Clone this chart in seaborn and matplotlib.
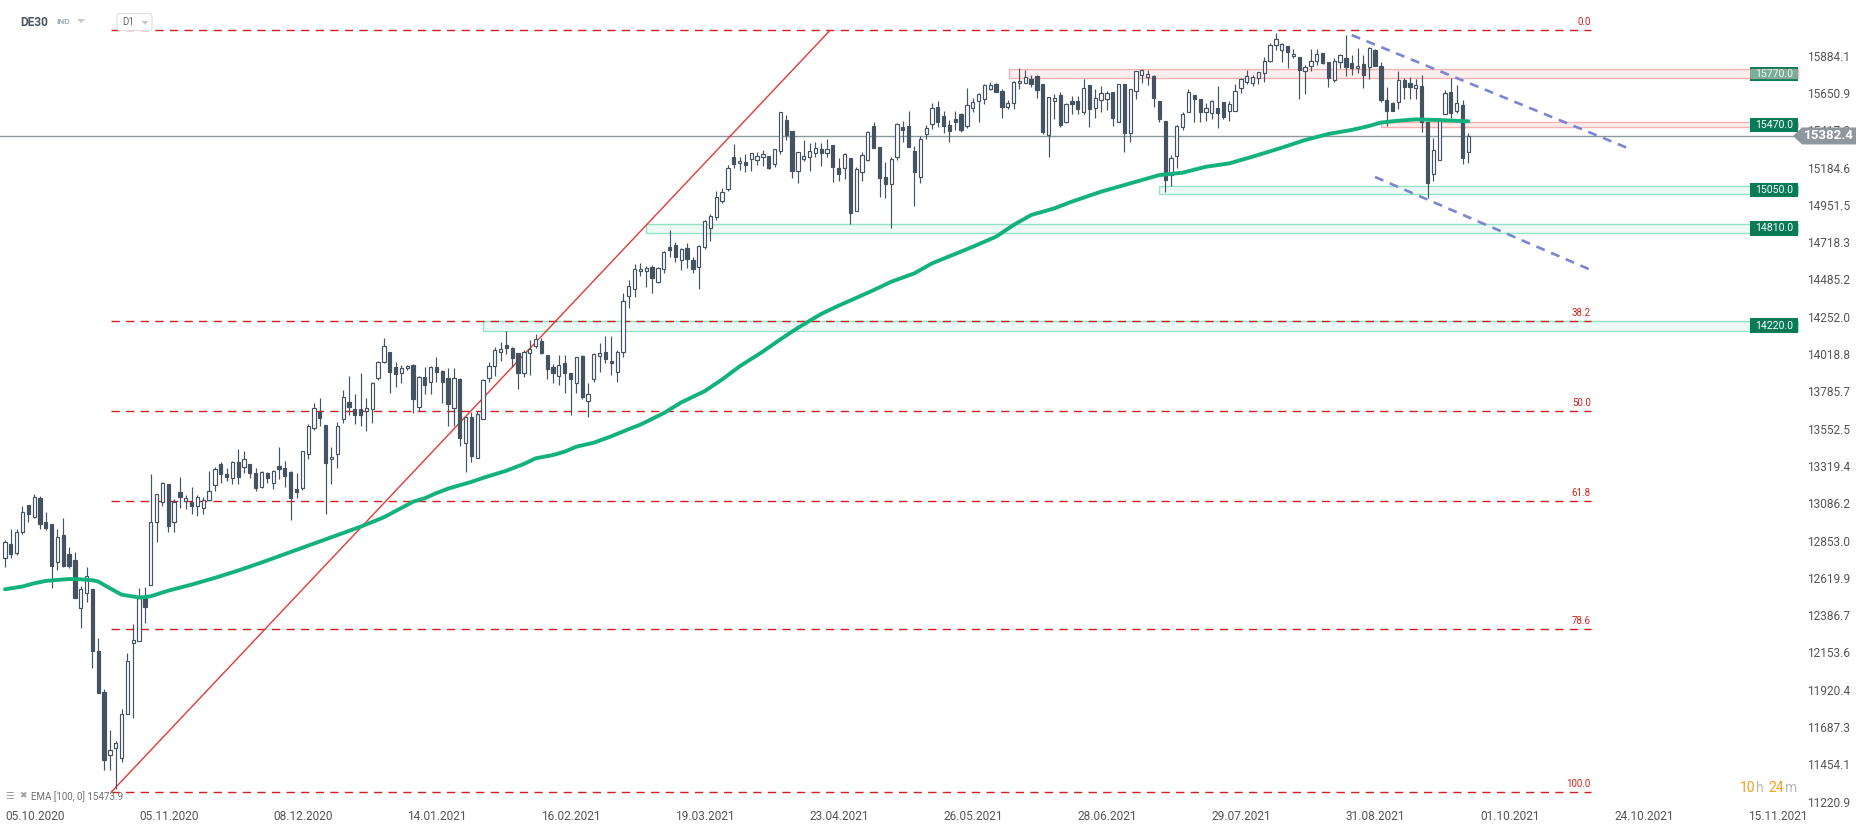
import numpy as np
import matplotlib
matplotlib.use("Agg")
import matplotlib.pyplot as plt
import matplotlib.transforms as mtransforms
from matplotlib.patches import Rectangle, Polygon, FancyBboxPatch
import seaborn as sns

# ---------------- data ----------------
opens = [12743, 12830, 12774, 12905, 13076, 13003, 13118, 12968, 12957, 12718,
         12888, 12768, 12732, 12434, 12524, 12549, 12163, 11905, 11511, 11555,
         11492, 11768, 12216, 12226, 12497, 12576, 12968, 13097, 13205, 12968,
         13159, 13103, 13097, 13072, 13055, 13107, 13199, 13332, 13270, 13243,
         13343, 13311, 13332, 13274, 13186, 13273, 13215, 13319, 13305, 13280,
         13175, 13184, 13392, 13555, 13655, 13576, 13361, 13392, 13611, 13721,
         13674, 13674, 13665, 13674, 13867, 13967, 14030, 13936, 13903, 13930,
         13951, 13690, 13878, 13847, 13936, 13913, 13867, 13680, 13863, 13461,
         13628, 13367, 13613, 13867, 13947, 14030, 14076, 14055, 14028, 13899,
         14024, 14072, 14103, 14013, 13940, 13882, 13961, 13899, 13836, 14009,
         13726, 13861, 14007, 14034, 13976, 13905, 14030, 14382, 14424, 14536,
         14540, 14565, 14467, 14549, 14690, 14701, 14607, 14680, 14607, 14565,
         14690, 14805, 14874, 14976, 15049, 15253, 15211, 15217, 15236, 15232,
         15249, 15257, 15205, 15288, 15482, 15413, 15163, 15238, 15253, 15278,
         15299, 15274, 15326, 15184, 15180, 15242, 14915, 15159, 15232, 15444,
         15311, 15124, 15080, 15253, 15436, 15444, 15288, 15128, 15392, 15455,
         15561, 15509, 15451, 15488, 15518, 15447, 15559, 15603, 15611, 15678,
         15707, 15663, 15565, 15586, 15711, 15715, 15738, 15759, 15707, 15388,
         15603, 15638, 15472, 15601, 15603, 15534, 15701, 15555, 15607, 15611,
         15655, 15472, 15707, 15399, 15663, 15763, 15753, 15759, 15601, 15476,
         15138, 15257, 15440, 15530, 15638, 15613, 15530, 15524, 15555, 15597,
         15540, 15540, 15680, 15722, 15711, 15743, 15774, 15853, 15951, 15920,
         15945, 15882, 15874, 15788, 15822, 15853, 15899, 15847, 15732, 15847,
         15868, 15836, 15805, 15830, 15816, 15920, 15820, 15607, 15586, 15597,
         15732, 15711, 15680, 15695, 15472, 15143, 15232, 15518, 15659, 15540,
         15576, 15284]
highs = [12857, 12926, 12926, 13070, 13076, 13145, 13132, 13030, 12957, 12926,
         12993, 12811, 12780, 12570, 12688, 12549, 12243, 11924, 11670, 11603,
         11799, 12153, 12332, 12559, 12563, 13270, 13143, 13222, 13205, 13114,
         13253, 13138, 13190, 13138, 13124, 13288, 13311, 13347, 13305, 13353,
         13424, 13413, 13332, 13305, 13288, 13284, 13294, 13440, 13351, 13290,
         13278, 13413, 13580, 13711, 13742, 13576, 13440, 13592, 13794, 13882,
         13767, 13903, 13746, 13847, 13978, 14117, 14030, 13972, 13951, 13951,
         13955, 13882, 13940, 13944, 14003, 13919, 13930, 13930, 13871, 13624,
         13659, 13663, 13861, 13972, 14065, 14096, 14165, 14061, 14028, 14044,
         14107, 14142, 14117, 14013, 13955, 14013, 14013, 13899, 14003, 14013,
         13836, 14024, 14086, 14134, 14132, 14044, 14400, 14482, 14582, 14586,
         14570, 14576, 14565, 14663, 14795, 14722, 14684, 14711, 14628, 14701,
         14857, 14895, 15038, 15055, 15201, 15332, 15253, 15267, 15278, 15284,
         15295, 15257, 15299, 15530, 15513, 15413, 15280, 15357, 15336, 15347,
         15336, 15361, 15326, 15247, 15274, 15242, 15190, 15280, 15413, 15467,
         15311, 15222, 15253, 15461, 15476, 15538, 15320, 15384, 15451, 15586,
         15601, 15540, 15482, 15540, 15524, 15680, 15622, 15653, 15707, 15718,
         15711, 15674, 15607, 15728, 15805, 15795, 15763, 15763, 15707, 15624,
         15643, 15659, 15586, 15632, 15632, 15738, 15701, 15676, 15697, 15663,
         15655, 15707, 15707, 15676, 15788, 15801, 15795, 15763, 15601, 15476,
         15263, 15451, 15530, 15674, 15638, 15613, 15591, 15607, 15695, 15597,
         15601, 15705, 15743, 15795, 15763, 15784, 15878, 15965, 16024, 15961,
         15945, 15926, 15874, 15826, 15926, 15926, 15899, 15847, 15868, 15893,
         16013, 15889, 15930, 15889, 15936, 15924, 15843, 15691, 15597, 15788,
         15747, 15753, 15736, 15763, 15472, 15368, 15486, 15670, 15743, 15701,
         15607, 15399]
lows = [12690, 12743, 12763, 12897, 12972, 12993, 12924, 12920, 12559, 12670,
        12690, 12684, 12497, 12309, 12472, 12055, 11903, 11420, 11420, 11301,
        11466, 11768, 11747, 12226, 12336, 12576, 12847, 13072, 12905, 12905,
        13055, 13051, 13020, 13009, 13020, 13101, 13164, 13211, 13228, 13205,
        13205, 13278, 13243, 13164, 13180, 13215, 13173, 13236, 13190, 12982,
        13117, 13169, 13363, 13544, 13569, 13017, 13205, 13305, 13586, 13638,
        13582, 13569, 13540, 13590, 13857, 13961, 13778, 13815, 13840, 13919,
        13649, 13665, 13769, 13769, 13847, 13715, 13569, 13569, 13446, 13284,
        13342, 13367, 13613, 13847, 13884, 13976, 14019, 13940, 13801, 13878,
        13888, 14059, 14019, 13863, 13836, 13826, 13778, 13638, 13778, 13738,
        13624, 13846, 13909, 13961, 13888, 13846, 14000, 14305, 14378, 14507,
        14440, 14399, 14465, 14524, 14628, 14597, 14544, 14555, 14524, 14424,
        14676, 14728, 14857, 14965, 15040, 15180, 15170, 15159, 15165, 15201,
        15194, 15174, 15190, 15270, 15357, 15117, 15086, 15226, 15163, 15253,
        15195, 15249, 15092, 15103, 15113, 14832, 14915, 15103, 15226, 15305,
        14999, 14992, 14805, 15232, 15347, 15315, 14947, 15086, 15361, 15426,
        15440, 15399, 15343, 15420, 15409, 15430, 15534, 15472, 15580, 15670,
        15655, 15497, 15551, 15551, 15674, 15715, 15686, 15618, 15395, 15253,
        15488, 15436, 15461, 15520, 15520, 15518, 15440, 15493, 15534, 15545,
        15447, 15472, 15284, 15343, 15613, 15711, 15701, 15566, 15472, 15030,
        15072, 15180, 15420, 15530, 15472, 15468, 15476, 15488, 15430, 15486,
        15478, 15540, 15649, 15705, 15697, 15707, 15722, 15843, 15920, 15843,
        15805, 15872, 15613, 15645, 15791, 15826, 15832, 15691, 15722, 15809,
        15757, 15763, 15774, 15684, 15736, 15820, 15597, 15445, 15540, 15549,
        15613, 15613, 15613, 15409, 14993, 15101, 15232, 15518, 15497, 15524,
        15205, 15215]
closes = [12847, 12768, 12905, 13030, 13018, 13124, 12955, 12930, 12697, 12874,
          12697, 12697, 12497, 12549, 12630, 12166, 11903, 11482, 11545, 11590,
          11768, 12101, 12232, 12497, 12441, 12968, 13143, 13211, 12947, 13097,
          13128, 13118, 13072, 13124, 13107, 13164, 13301, 13268, 13249, 13347,
          13249, 13361, 13274, 13180, 13280, 13242, 13288, 13301, 13259, 13121,
          13159, 13413, 13569, 13680, 13621, 13336, 13378, 13569, 13753, 13686,
          13638, 13638, 13684, 13836, 13967, 14069, 13909, 13892, 13930, 13944,
          13736, 13874, 13826, 13936, 13909, 13847, 13705, 13867, 13492, 13624,
          13384, 13642, 13857, 13944, 14044, 14049, 14059, 13997, 13899, 14034,
          14049, 14111, 14028, 13926, 13899, 13951, 13899, 13861, 13999, 13753,
          13767, 14017, 14024, 13988, 13961, 14034, 14350, 14444, 14549, 14551,
          14555, 14492, 14555, 14655, 14670, 14628, 14674, 14613, 14553, 14697,
          14853, 14882, 14999, 15034, 15184, 15205, 15226, 15201, 15274, 15257,
          15270, 15180, 15299, 15530, 15388, 15165, 15280, 15257, 15288, 15305,
          15274, 15301, 15190, 15142, 15267, 14903, 15176, 15263, 15409, 15305,
          15117, 15082, 15236, 15457, 15420, 15315, 15159, 15363, 15430, 15555,
          15472, 15447, 15415, 15472, 15420, 15576, 15593, 15643, 15701, 15699,
          15659, 15565, 15590, 15722, 15726, 15749, 15705, 15670, 15409, 15624,
          15618, 15451, 15582, 15580, 15551, 15680, 15549, 15618, 15649, 15649,
          15497, 15707, 15399, 15676, 15788, 15795, 15770, 15618, 15486, 15107,
          15243, 15445, 15518, 15655, 15611, 15530, 15555, 15601, 15528, 15503,
          15580, 15663, 15736, 15759, 15753, 15780, 15853, 15951, 15986, 15955,
          15905, 15895, 15795, 15816, 15851, 15893, 15836, 15747, 15853, 15889,
          15811, 15805, 15820, 15763, 15930, 15820, 15607, 15540, 15540, 15732,
          15686, 15686, 15701, 15472, 15090, 15295, 15486, 15653, 15524, 15586,
          15243, 15382.4]

# EMA(100) at selected candles (candle number, value)
ema_candle = [0, 3, 5, 7, 9, 11, 13, 15, 16, 18, 20, 23, 25, 28, 32, 36, 40, 44,
              55, 61, 65, 70, 72, 74, 76, 80, 82, 86, 89, 91, 94, 96, 98, 101, 104,
              107, 109, 113, 116, 120, 123, 126, 130, 133, 136, 140, 143, 146, 149,
              152, 156, 159, 163, 166, 170, 173, 176, 180, 183, 188, 193, 198, 202,
              206, 210, 214, 219, 223, 227, 231, 234, 236, 239, 242, 246, 251]
ema_value = [12549, 12566, 12586, 12601, 12607, 12613, 12611, 12605, 12597, 12555,
             12515, 12497, 12505, 12540, 12578, 12620, 12666, 12716,
             12861, 12940, 12999, 13096, 13118, 13150, 13178, 13220, 13245, 13290,
             13332, 13367, 13388, 13409, 13440, 13465, 13505,
             13550, 13578, 13650, 13717, 13787, 13860, 13942, 14035, 14111, 14183,
             14270, 14322, 14370, 14419,
             14471, 14524, 14586, 14645, 14690, 14753, 14826, 14888, 14930, 14972,
             15034, 15086, 15138, 15153,
             15190, 15211, 15253, 15309, 15357, 15395, 15420, 15445, 15466, 15478,
             15486, 15482, 15474]

date_labels = ["05.10.2020", "05.11.2020", "08.12.2020", "14.01.2021", "16.02.2021",
               "19.03.2021", "23.04.2021", "26.05.2021", "28.06.2021", "29.07.2021",
               "31.08.2021", "01.10.2021", "24.10.2021", "15.11.2021"]
price_ticks = [15884.1, 15650.9, 15417.8, 15184.6, 14951.5, 14718.3, 14485.2,
               14252.0, 14018.8, 13785.7, 13552.5, 13319.4, 13086.2, 12853.0,
               12619.9, 12386.7, 12153.6, 11920.4, 11687.3, 11454.1, 11220.9]

fib_ratios = [0.0, 38.2, 50.0, 61.8, 78.6, 100.0]
fib_high, fib_low = 16042, 11280
fib_start, fib_end, fib_peak = 18.2, 272, 141.5   # candle numbers

# zones
zone_label = [15770.0, 15470.0, 15050.0, 14810.0, 14220.0]
zone_low = [15742, 15436, 15018, 14778, 14166]
zone_high = [15799, 15468, 15070, 14832, 14228]
zone_start = [172.2, 236.0, 197.9, 109.9, 82.0]
zone_kind = ["res", "res", "sup", "sup", "sup"]

# dashed channel lines (candle, price)
chan_up_x, chan_up_y = [231.0, 278.2], [16013, 15309]
chan_lo_x, chan_lo_y = [235.0, 272.0], [15126, 14545]

last_price = 15382.4
ema_last = 15473.9

# ---------------- styling ----------------
sns.set_theme(style="white")
plt.rcParams["font.family"] = ["Roboto", "DejaVu Sans"]
plt.rcParams["lines.scale_dashes"] = False

W, H = 1866, 832
DPI = 100
fig = plt.figure(figsize=(W / DPI, H / DPI), dpi=DPI)
fig.patch.set_facecolor("white")

AX_R, AX_B = 1797, 805
ax = fig.add_axes([0, 1 - AX_B / H, AX_R / W, AX_B / H])
ax.set_facecolor("white")
for s in ax.spines.values():
    s.set_visible(False)

step = 5.83           # px per candle
x0 = 5.0              # px of first candle
ax.set_xlim(-x0 / step, (AX_R - x0) / step)
ppx = (price_ticks[0] - price_ticks[-1]) / (801.7 - 55.7)   # price per pixel
ax.set_ylim(price_ticks[-1] - (AX_B - 801.7) * ppx, price_ticks[0] + 55.7 * ppx)

dark = "#44535f"
o = np.array(opens, float); h = np.array(highs, float)
l = np.array(lows, float); c = np.array(closes, float)
idx = np.arange(len(c))
up = c >= o

# zones (behind candles) and their green labels
xr = ax.get_xlim()[1]
bx0 = (1750 - x0) / step
bw = (1798 - 1750) / step
bh = 14.5 * ppx
for lab, lo, hi, xs, kind in zip(zone_label, zone_low, zone_high, zone_start, zone_kind):
    if kind == "res":
        fc, ec = "#fdeeee", "#f3b3b3"
    else:
        fc, ec = "#edf9f4", "#92e2c3"
    ax.add_patch(Rectangle((xs, lo), xr - xs + 0.2, hi - lo, facecolor=fc, edgecolor=ec,
                           linewidth=1.0, zorder=1, clip_on=False))
    mid = (lo + hi) / 2
    ax.add_patch(Rectangle((bx0, mid - bh / 2), bw, bh, facecolor="#087b56",
                           edgecolor="none", zorder=6, clip_on=False))
    ax.text(bx0 + bw / 2, mid, f"{lab:.1f}", color="white", fontsize=7.6,
            ha="center", va="center", zorder=6.5, clip_on=False)
    if lab == 15770.0:
        # this zone is drawn over its label in the reference
        ax.add_patch(Rectangle((bx0, lo), xr - bx0 + 0.2, hi - lo, facecolor=fc,
                               edgecolor=ec, linewidth=1.0, alpha=0.45, zorder=7,
                               clip_on=False))

# fib levels
fib_col = "#cf1f1f"
for r in fib_ratios:
    lvl = fib_high - r / 100 * (fib_high - fib_low)
    ax.plot([fib_start, fib_end], [lvl, lvl], color=fib_col, lw=1.0,
            linestyle=(0, (6, 4.5)), zorder=2)
    ax.annotate(f"{r:.1f}", (fib_end, lvl), xytext=(0, 2.5), textcoords="offset points",
                ha="right", va="bottom", fontsize=7, color=fib_col, zorder=2)
ax.plot([fib_start, fib_peak], [fib_low, fib_high], color="#e53935", lw=1.0, zorder=2.5)

# last price line
ax.axhline(last_price, color="#8b989c", lw=1.0, zorder=2)

# candles
ax.vlines(idx, l, h, color=dark, lw=0.85, zorder=3)
bot = np.minimum(o, c)
hgt = np.maximum(np.abs(c - o), 1.2 * ppx)
ax.bar(idx[up], hgt[up], bottom=bot[up], width=0.56, color="white", edgecolor=dark,
       linewidth=0.85, zorder=4)
ax.bar(idx[~up], hgt[~up], bottom=bot[~up], width=0.56, color=dark, edgecolor=dark,
       linewidth=0.85, zorder=4)

# EMA
sns.lineplot(x=ema_candle, y=ema_value, ax=ax, color="#13b27c", lw=2.8, zorder=5,
             estimator=None, sort=False, legend=False)

# channel
chan_col = "#7b86d2"
ax.plot(chan_up_x, chan_up_y, color=chan_col, lw=1.9, linestyle=(0, (6.5, 5)), zorder=5,
        clip_on=False)
ax.plot(chan_lo_x, chan_lo_y, color=chan_col, lw=1.9, linestyle=(0, (6.5, 5)), zorder=5,
        clip_on=False)

# axes ticks
ax.yaxis.tick_right()
ax.set_yticks(price_ticks)
ax.set_yticklabels([f"{t:.1f}" for t in price_ticks])
ax.tick_params(axis="y", length=0, pad=7, labelsize=8.6, labelcolor="#555555")
ax.set_xticks(np.arange(len(date_labels)) * 23)
ax.set_xticklabels(date_labels)
for t in ax.get_xticklabels():
    t.set_ha("left")
ax.tick_params(axis="x", length=0, pad=3.5, labelsize=8.6, labelcolor="#555555")
ax.grid(False)

# current price marker (outside the plot)
bt = mtransforms.blended_transform_factory(fig.transFigure, ax.transData)
hb = 8.5 * ppx
poly = Polygon([(1793 / W, last_price), (1802 / W, last_price + hb), (1856 / W, last_price + hb),
                (1856 / W, last_price - hb), (1802 / W, last_price - hb)], closed=True,
               transform=bt, facecolor="#8d979c", edgecolor="none", zorder=10)
fig.add_artist(poly)
fig.text(1829 / W, last_price, f"{last_price:.1f}", transform=bt,
         ha="center", va="center", color="white", fontsize=9.6, fontweight="bold", zorder=11)


def fx(px):
    return px / W


def fy(py):
    return 1 - py / H


# header
fig.text(fx(20), fy(22), "DE30", fontsize=8.6, fontweight="bold", color="#4a5561",
         ha="left", va="center")
fig.text(fx(56), fy(22), "IND", fontsize=6, fontweight="bold", color="#a3adb5",
         ha="left", va="center")
inch = fig.dpi_scale_trans
fig.add_artist(Polygon([(77 / DPI, (H - 19) / DPI), (85 / DPI, (H - 19) / DPI),
                        (81 / DPI, (H - 23) / DPI)], transform=inch, facecolor="#c3c9cd",
                       edgecolor="none"))
fig.add_artist(FancyBboxPatch((117 / DPI, (H - 30.5) / DPI), 35 / DPI, 17 / DPI,
                              boxstyle="round,pad=0,rounding_size=0.03", transform=inch,
                              facecolor="white", edgecolor="#dedede", linewidth=0.8))
fig.text(fx(122), fy(22), "D1", fontsize=7, color="#666666", ha="left", va="center")
fig.add_artist(Polygon([(141.5 / DPI, (H - 21) / DPI), (148.5 / DPI, (H - 21) / DPI),
                        (145 / DPI, (H - 25) / DPI)], transform=inch, facecolor="#c3c9cd",
                       edgecolor="none"))

# EMA legend
fig.text(fx(5), fy(796), "\u2630", fontsize=7, color="#9e9e9e", ha="left", va="center",
         family=["DejaVu Sans"])
fig.text(fx(19), fy(796), "\u2716", fontsize=6.5, color="#9e9e9e", ha="left", va="center",
         family=["DejaVu Sans"])
fig.text(fx(31), fy(797), f"EMA [100, 0] {ema_last:.1f}", fontsize=7, color="#6f6f6f",
         ha="left", va="center")

# countdown
orange, grey = "#f5a01a", "#b8b8b8"
for txt, px, col in [("10", 1740, orange), ("h", 1756, grey), ("24", 1768, orange), ("m", 1785, grey)]:
    fig.text(fx(px), fy(788), txt, fontsize=10, color=col, ha="left", va="center")

fig.savefig("out.png", dpi=DPI, facecolor="white")
